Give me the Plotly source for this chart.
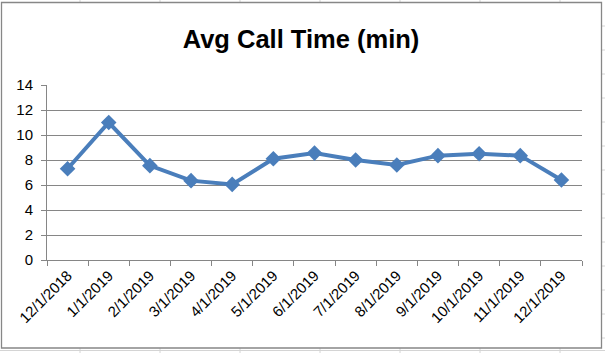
import plotly.graph_objects as go

# ---- data ----
categories = ["12/1/2018", "1/1/2019", "2/1/2019", "3/1/2019", "4/1/2019", "5/1/2019",
              "6/1/2019", "7/1/2019", "8/1/2019", "9/1/2019", "10/1/2019", "11/1/2019",
              "12/1/2019"]
avg_call_time = [7.3, 11.0, 7.55, 6.35, 6.05, 8.1, 8.55, 8.0, 7.6, 8.35, 8.5, 8.35, 6.4]
y_ticks = [0, 2, 4, 6, 8, 10, 12, 14]
title_text = "Avg Call Time (min)"

W, H = 605, 353
L, R, T, B = 47, 23, 85, 93
PW, PH = W - L - R, H - T - B

def px(x):
    return (x - L) / PW

def py(y):
    return (H - B - y) / PH

FONT = "Liberation Sans"
GRID = "#868686"
LINE = "#4a7ebb"

fig = go.Figure()
fig.add_trace(go.Scatter(
    x=categories, y=avg_call_time, mode="lines+markers",
    line=dict(color=LINE, width=4),
    marker=dict(symbol="diamond", size=12, color=LINE),
    showlegend=False, hoverinfo="skip",
))

shapes = []
# Excel cell grid peeking around the chart
cell = "#d4d4d4"
for x in range(80, 600, 80):
    shapes.append(dict(type="line", xref="paper", yref="paper",
                       x0=px(x), x1=px(x), y0=py(0), y1=py(2),
                       line=dict(color=cell, width=1)))
    shapes.append(dict(type="line", xref="paper", yref="paper",
                       x0=px(x), x1=px(x), y0=py(348), y1=py(353),
                       line=dict(color=cell, width=1)))
for y in range(26, 353, 24):
    shapes.append(dict(type="line", xref="paper", yref="paper",
                       x0=px(602), x1=px(605), y0=py(y), y1=py(y),
                       line=dict(color=cell, width=1)))
shapes.append(dict(type="line", xref="paper", yref="paper",
                   x0=px(0), x1=px(605), y0=py(350.5), y1=py(350.5),
                   line=dict(color=cell, width=1)))
# chart border
shapes.append(dict(type="rect", xref="paper", yref="paper",
                   x0=px(1.5), x1=px(601.5), y0=py(2.5), y1=py(348),
                   line=dict(color="#878787", width=1.3), fillcolor="rgba(0,0,0,0)"))

fig.update_layout(
    width=W, height=H,
    margin=dict(l=L, r=R, t=T, b=B, pad=0),
    paper_bgcolor="white", plot_bgcolor="white",
    title=dict(text=f"<b>{title_text}</b>", x=301 / W, xref="container", xanchor="center",
               y=1 - 39 / H, yref="container", yanchor="middle",
               font=dict(family=FONT, size=25.5, color="black")),
    shapes=shapes,
    xaxis=dict(
        type="category", tickson="boundaries",
        showgrid=False, showline=True, linecolor=GRID, linewidth=1,
        ticks="outside", ticklen=5, tickcolor=GRID, tickwidth=1,
        tickangle=-45, tickfont=dict(family=FONT, size=15, color="black"),
        range=[-0.5, len(categories) - 0.5], fixedrange=True,
    ),
    yaxis=dict(
        range=[0, 14], tickvals=y_ticks, showgrid=True, gridcolor=GRID, gridwidth=1,
        showline=True, linecolor=GRID, linewidth=1, zeroline=False,
        ticks="outside", ticklen=5, tickcolor=GRID, tickwidth=1,
        tickfont=dict(family=FONT, size=15, color="black"),
        ticklabelstandoff=5, fixedrange=True,
    ),
)

fig.write_html("out.html")
